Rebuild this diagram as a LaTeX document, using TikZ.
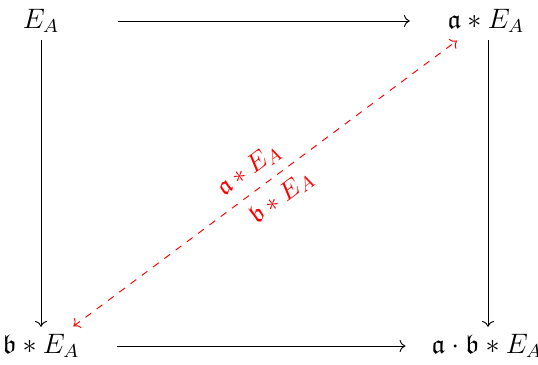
\documentclass[tikz,border=0pt]{standalone}
\usepackage{amsmath}
\usepackage{amssymb}
\usetikzlibrary{arrows.meta}

\tikzset{
  obj/.style={inner sep=2pt, font=\fontsize{11.5}{14}\selectfont},
  mor/.style={->, thin},
  dual/.style={<->, red, dashed, thin},
  dlabel/.style={red, sloped, inner sep=4pt, font=\fontsize{11}{13}\selectfont}
}

\begin{document}
\begin{tikzpicture}[x=0.015cm, y=-0.015cm]
  \useasboundingbox (0,0) rectangle (538,364);

  % corners of the square
  \node[obj] (EA)  at (41,21)  {$E_A$};
  \node[obj] (aEA) at (486,21) {$\mathfrak{a} * E_A$};
  \node[obj] (bEA) at (41,346) {$\mathfrak{b} * E_A$};
  \node[obj] (abEA) at (487,346) {$\mathfrak{a}\cdot\mathfrak{b} * E_A$};

  % horizontal and vertical maps
  \draw[mor, shorten <=23pt, shorten >=14pt] (EA) -- (aEA);
  \draw[mor, shorten <=14pt, shorten >=9pt] (bEA) -- (abEA);
  \draw[mor, shorten <=1pt, shorten >=1pt] (EA) -- (bEA);
  \draw[mor, shorten <=1pt, shorten >=1pt] ([xshift=0.03cm]aEA.south) -- ([xshift=0.03cm]aEA.south |- abEA.north);

  % dashed diagonal
  \draw[dual, shorten <=2pt, shorten >=2pt] ([xshift=0.43cm]bEA.north) -- ([xshift=-0.38cm]aEA.south)
    node[dlabel, pos=0.49, above] {$\mathfrak{a} * E_A$}
    node[dlabel, pos=0.51, below] {$\mathfrak{b} * E_A$};
\end{tikzpicture}
\end{document}
